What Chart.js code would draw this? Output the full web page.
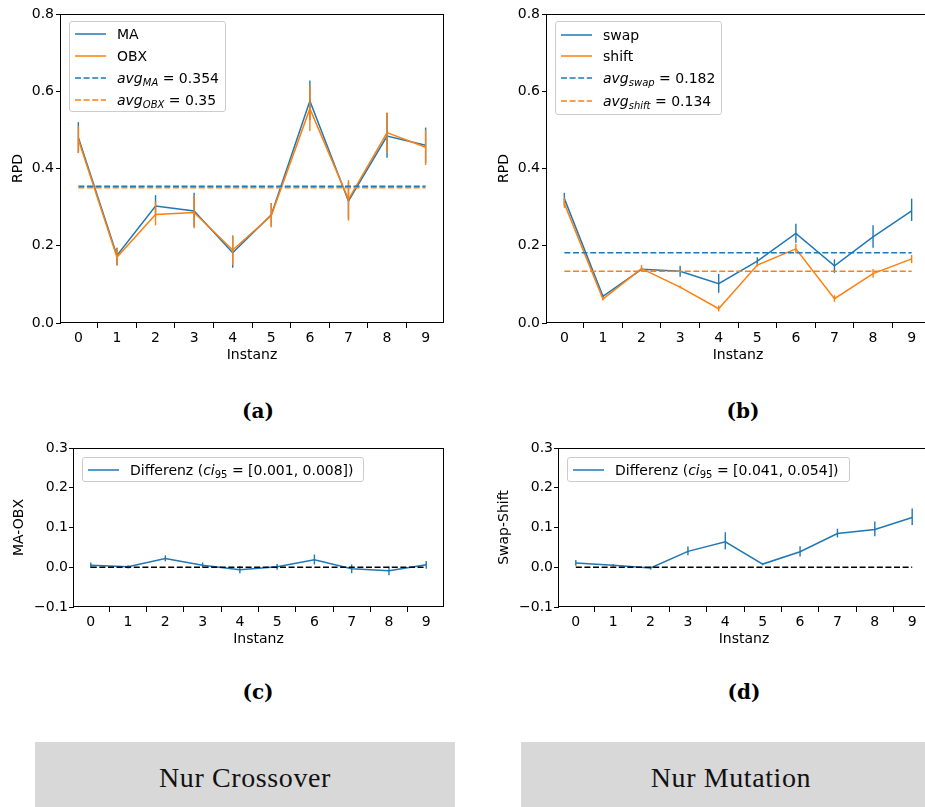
<!DOCTYPE html>
<html>
<head>
<meta charset="utf-8">
<script src="https://cdn.jsdelivr.net/npm/chart.js@4.4.0/dist/chart.umd.min.js"></script>
<style>
  html, body { margin:0; padding:0; background:#fff; }
  #page { position:relative; width:925px; height:807px; overflow:hidden; background:#fff; font-family:"DejaVu Sans", sans-serif; }
  .cv { position:absolute; }
  .legend { position:absolute; background:rgba(255,255,255,0.8); border:1px solid #cccccc; border-radius:3px; box-sizing:border-box; }
  .row { position:absolute; left:0; height:20px; line-height:20px; font-size:14px; color:#000; white-space:nowrap; }
  .row svg { position:absolute; left:5px; top:8px; }
  .row span.t { position:absolute; left:47px; top:0; }
  .m { font-style:italic; }
  sub { font-size:10px; vertical-align:-3px; line-height:0; }
  .cap { position:absolute; font-family:"DejaVu Serif", serif; font-weight:bold; font-size:20px; color:#000; transform:translateX(-50%); }
  .box { position:absolute; background:#d8d8d8; height:65px; top:742px; width:420px; }
  .box span { position:absolute; left:0; right:0; top:20px; text-align:center; font-family:"Liberation Serif", serif; font-size:28px; letter-spacing:0.6px; color:#111; }
</style>
</head>
<body>
<div id="page">
  <div class="cv" style="left:0;top:0"><canvas id="ca" width="465" height="372"></canvas></div>
  <div class="cv" style="left:465px;top:0"><canvas id="cb" width="470" height="372"></canvas></div>
  <div class="cv" style="left:0;top:430px"><canvas id="cc" width="465" height="226"></canvas></div>
  <div class="cv" style="left:465px;top:430px"><canvas id="cd" width="470" height="226"></canvas></div>
  <div class="cap" style="left:258px;top:399px">(a)</div>
  <div class="cap" style="left:743px;top:399px">(b)</div>
  <div class="cap" style="left:258px;top:680px">(c)</div>
  <div class="cap" style="left:744px;top:680px">(d)</div>
  <div class="box" style="left:35px"><span>Nur Crossover</span></div>
  <div class="box" style="left:521px"><span>Nur Mutation</span></div>
</div>
<script>
// ---------- data ----------
const instances = [0, 1, 2, 3, 4, 5, 6, 7, 8, 9];
const yTicksRPD = [0, 0.2, 0.4, 0.6, 0.8];
const yTicksDiff = [-0.1, 0, 0.1, 0.2, 0.3];

// (a) Nur Crossover
const maMean  = [0.480, 0.175, 0.303, 0.290, 0.182, 0.280, 0.575, 0.316, 0.484, 0.460];
const maLow   = [0.440, 0.150, 0.275, 0.250, 0.143, 0.250, 0.525, 0.270, 0.428, 0.415];
const maHigh  = [0.520, 0.195, 0.331, 0.337, 0.225, 0.310, 0.628, 0.365, 0.544, 0.506];
const obxMean = [0.475, 0.170, 0.281, 0.286, 0.189, 0.278, 0.555, 0.320, 0.493, 0.455];
const obxLow  = [0.440, 0.148, 0.253, 0.245, 0.150, 0.248, 0.497, 0.265, 0.440, 0.409];
const obxHigh = [0.510, 0.195, 0.314, 0.330, 0.227, 0.310, 0.615, 0.370, 0.545, 0.500];
const avgMA = 0.354;
const avgOBX = 0.35;

// (b) Nur Mutation
const swapMean  = [0.322, 0.069, 0.139, 0.134, 0.102, 0.160, 0.232, 0.148, 0.223, 0.290];
const swapLow   = [0.305, 0.064, 0.134, 0.120, 0.078, 0.152, 0.208, 0.130, 0.195, 0.264];
const swapHigh  = [0.337, 0.074, 0.144, 0.148, 0.127, 0.170, 0.257, 0.165, 0.253, 0.322];
const shiftMean = [0.309, 0.062, 0.141, 0.093, 0.037, 0.150, 0.192, 0.063, 0.128, 0.166];
const shiftLow  = [0.298, 0.058, 0.133, 0.090, 0.030, 0.146, 0.180, 0.055, 0.117, 0.155];
const shiftHigh = [0.325, 0.066, 0.150, 0.097, 0.045, 0.154, 0.205, 0.072, 0.140, 0.176];
const avgSwap = 0.182;
const avgShift = 0.134;

// (c) Differenz MA-OBX
const diffCMean = [0.005, 0.001, 0.022, 0.005, -0.006, 0.001, 0.019, -0.004, -0.009, 0.006];
const diffCLow  = [-0.002, -0.003, 0.015, -0.001, -0.015, -0.006, 0.007, -0.015, -0.020, -0.004];
const diffCHigh = [0.012, 0.005, 0.030, 0.012, 0.003, 0.008, 0.032, 0.007, 0.002, 0.016];

// (d) Differenz Swap-Shift
const diffDMean = [0.011, 0.005, -0.002, 0.040, 0.064, 0.008, 0.039, 0.085, 0.095, 0.125];
const diffDLow  = [0.004, 0.002, -0.006, 0.030, 0.045, 0.005, 0.027, 0.075, 0.078, 0.106];
const diffDHigh = [0.018, 0.008, 0.002, 0.052, 0.088, 0.011, 0.053, 0.097, 0.115, 0.148];
const zeroLine = 0;

// ---------- styling helpers ----------
const BLUE = '#1f77b4', ORANGE = '#ff7f0e', BLACK = '#000000';
const FONT = 'DejaVu Sans';

function lineDs(vals, color, order) {
  return { type:'line', data: instances.map((x, i) => ({x, y: vals[i]})), borderColor: color,
    borderWidth: 1.5, pointRadius: 0, tension: 0, fill: false, order };
}
function errDs(lo, hi, color, order) {
  return { type:'bar', data: instances.map((x, i) => ({x, y: [lo[i], hi[i]]})), backgroundColor: color,
    borderWidth: 0, barThickness: 1.4, inflateAmount: 0, grouped: false, order };
}
function hlineDs(v, color, order) {
  const last = instances.length - 1;
  return { type:'line', data: [{x: instances[0], y: v}, {x: instances[last], y: v}], borderColor: color,
    borderWidth: 1.5, borderDash: [6, 2.6], pointRadius: 0, tension: 0, fill: false, order };
}

const framePlugin = {
  id: 'frame',
  afterDraw(chart) {
    const {ctx, chartArea: a} = chart;
    ctx.save();
    ctx.strokeStyle = BLACK;
    ctx.lineWidth = 1;
    ctx.strokeRect(Math.round(a.left) - 0.5, Math.round(a.top) + 0.5,
                   Math.round(a.right - a.left) + 1, Math.round(a.bottom - a.top) - 1);
    ctx.restore();
  }
};

function fmtY(v) {
  const s = Math.abs(v).toFixed(1);
  return (v < -1e-9 ? '\u2212' : '') + s;
}

function makeChart(id, p) {
  new Chart(document.getElementById(id), {
    type: 'line',
    data: { datasets: p.datasets },
    plugins: [framePlugin],
    options: {
      responsive: false, animation: false, devicePixelRatio: 1,
      layout: { padding: p.padding },
      plugins: { legend: { display: false }, tooltip: { enabled: false } },
      scales: {
        x: {
          type: 'linear', min: -0.45, max: 9.45, bounds: 'data', offset: false,
          afterBuildTicks: s => { s.ticks = instances.map(v => ({value: v})); },
          afterFit: s => { s.height = p.xH; },
          grid: { display: true, drawOnChartArea: false, drawTicks: true, tickLength: 5, color: BLACK, lineWidth: 1 },
          border: { display: false },
          ticks: { font: { family: FONT, size: 14 }, color: BLACK, padding: 2, autoSkip: false, maxRotation: 0,
                   callback: v => String(v) },
          title: { display: true, text: 'Instanz', font: { family: FONT, size: 14 }, color: BLACK,
                   padding: { top: 0, bottom: 8.6 } }
        },
        y: {
          type: 'linear', min: p.yMin, max: p.yMax, bounds: 'data',
          afterBuildTicks: s => { s.ticks = p.yTicks.map(v => ({value: v})); },
          afterFit: s => { s.width = p.yW; },
          grid: { display: true, drawOnChartArea: false, drawTicks: true, tickLength: 5, color: BLACK, lineWidth: 1 },
          border: { display: false },
          ticks: { font: { family: FONT, size: 14 }, color: BLACK, padding: p.yTickPad, callback: v => fmtY(v) },
          title: { display: true, text: p.yTitle, font: { family: FONT, size: 14 }, color: BLACK,
                   padding: { top: p.yTitlePad, bottom: 0 } }
        }
      }
    }
  });
}

makeChart('ca', {
  padding: { left: 0, top: 14, right: 22, bottom: 0 }, yW: 61, xH: 49, yTitlePad: 9.6, yTickPad: 2,
  yMin: 0, yMax: 0.8, yTicks: yTicksRPD, yTitle: 'RPD',
  datasets: [
    lineDs(maMean, BLUE, 6), errDs(maLow, maHigh, BLUE, 5),
    lineDs(obxMean, ORANGE, 4), errDs(obxLow, obxHigh, ORANGE, 3),
    hlineDs(avgMA, BLUE, 2), hlineDs(avgOBX, ORANGE, 1)
  ]
});
makeChart('cb', {
  padding: { left: 21, top: 14, right: 6, bottom: 0 }, yW: 61, xH: 49, yTitlePad: 9.6, yTickPad: 2,
  yMin: 0, yMax: 0.8, yTicks: yTicksRPD, yTitle: 'RPD',
  datasets: [
    lineDs(swapMean, BLUE, 6), errDs(swapLow, swapHigh, BLUE, 5),
    lineDs(shiftMean, ORANGE, 4), errDs(shiftLow, shiftHigh, ORANGE, 3),
    hlineDs(avgSwap, BLUE, 2), hlineDs(avgShift, ORANGE, 1)
  ]
});
makeChart('cc', {
  padding: { left: 0, top: 18, right: 22, bottom: 0 }, yW: 74, xH: 49, yTitlePad: 10.6, yTickPad: 1,
  yMin: -0.1, yMax: 0.3, yTicks: yTicksDiff, yTitle: 'MA-OBX',
  datasets: [
    lineDs(diffCMean, BLUE, 3), errDs(diffCLow, diffCHigh, BLUE, 2), hlineDs(zeroLine, BLACK, 1)
  ]
});
makeChart('cd', {
  padding: { left: 21, top: 18, right: 6, bottom: 0 }, yW: 73, xH: 49, yTitlePad: 9.6, yTickPad: 1,
  yMin: -0.1, yMax: 0.3, yTicks: yTicksDiff, yTitle: 'Swap-Shift',
  datasets: [
    lineDs(diffDMean, BLUE, 3), errDs(diffDLow, diffDHigh, BLUE, 2), hlineDs(zeroLine, BLACK, 1)
  ]
});

// ---------- legends (HTML, for sub-scripted math text) ----------
function sample(color, dashed) {
  return '<svg width="31" height="4"><line x1="0" y1="2" x2="31" y2="2" stroke="' + color +
    '" stroke-width="1.5"' + (dashed ? ' stroke-dasharray="6 2.6"' : '') + '/></svg>';
}
function legend(left, top, width, height, rows) {
  const d = document.createElement('div');
  d.className = 'legend';
  d.style.cssText = 'left:' + left + 'px;top:' + top + 'px;width:' + width + 'px;height:' + height + 'px';
  rows.forEach(r => {
    const row = document.createElement('div');
    row.className = 'row';
    row.style.top = (r.cy - 10) + 'px';
    row.innerHTML = sample(r.color, r.dashed) + '<span class="t">' + r.html + '</span>';
    d.appendChild(row);
  });
  document.getElementById('page').appendChild(d);
}
legend(69, 21, 157, 91, [
  { cy: 12, color: BLUE, dashed: false, html: 'MA' },
  { cy: 33.5, color: ORANGE, dashed: false, html: 'OBX' },
  { cy: 56, color: BLUE, dashed: true, html: '<span class="m">avg</span><sub class="m">MA</sub> = ' + avgMA },
  { cy: 78, color: ORANGE, dashed: true, html: '<span class="m">avg</span><sub class="m">OBX</sub> = ' + avgOBX }
]);
legend(555, 21, 167, 94, [
  { cy: 13, color: BLUE, dashed: false, html: 'swap' },
  { cy: 34, color: ORANGE, dashed: false, html: 'shift' },
  { cy: 56, color: BLUE, dashed: true, html: '<span class="m">avg</span><sub class="m">swap</sub> = ' + avgSwap },
  { cy: 79, color: ORANGE, dashed: true, html: '<span class="m">avg</span><sub class="m">shift</sub> = ' + avgShift }
]);
legend(82, 457, 282, 25, [
  { cy: 12, color: BLUE, dashed: false, html: 'Differenz (<span class="m">ci</span><sub>95</sub> = [0.001, 0.008])' }
]);
legend(567, 457, 283, 25, [
  { cy: 12, color: BLUE, dashed: false, html: 'Differenz (<span class="m">ci</span><sub>95</sub> = [0.041, 0.054])' }
]);
</script>
</body>
</html>
